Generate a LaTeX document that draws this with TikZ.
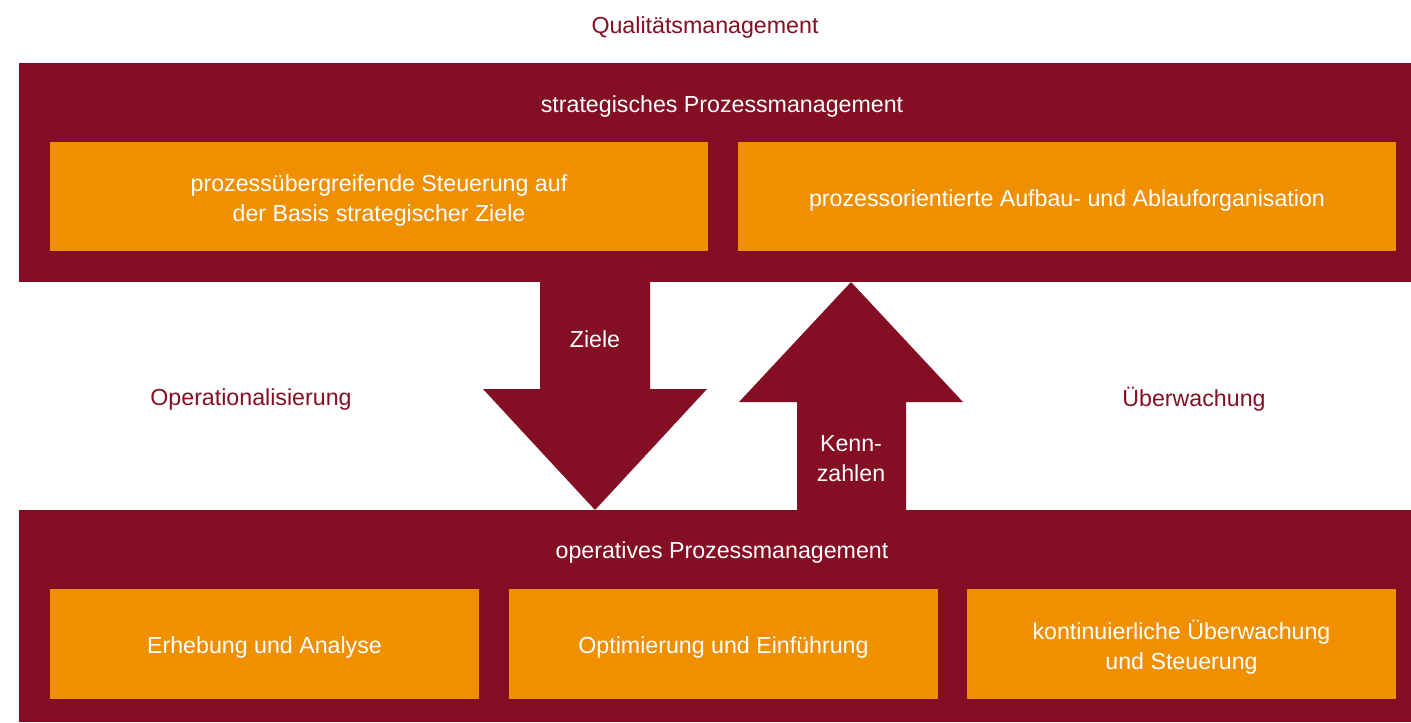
\documentclass[tikz,border=0pt]{standalone}
\usepackage{fontspec}
\setmainfont{Liberation Sans}
\definecolor{dred}{RGB}{132,14,35}
\definecolor{orng}{RGB}{240,144,0}
\begin{document}
\begin{tikzpicture}[x=0.5pt,y=-0.5pt,
  band/.style={fill=dred,draw=none},
  obox/.style={fill=orng,draw=none},
  wtxt/.style={text=white,font=\fontsize{11.6}{15}\selectfont,align=center},
  rtxt/.style={text=dred,font=\fontsize{11.6}{15}\selectfont,align=center}]
\useasboundingbox (0,0) rectangle (1411,722);
% bands
\fill[band] (19,63) rectangle (1411,282);
\fill[band] (19,510) rectangle (1411,722);
% orange boxes
\fill[obox] (50,142) rectangle (708,251);
\fill[obox] (738,142) rectangle (1396,251);
\fill[obox] (50,589) rectangle (479,699);
\fill[obox] (509,589) rectangle (938,699);
\fill[obox] (967,589) rectangle (1396,699);
% arrows
\fill[band] (540,282) -- (650,282) -- (650,389) -- (707,389) -- (595,510) -- (483,389) -- (540,389) -- cycle;
\fill[band] (797,510) -- (906,510) -- (906,402) -- (963,402) -- (851,282) -- (739,402) -- (797,402) -- cycle;
% texts
\node[rtxt] (qm) at (705,27.5) {Qualitätsmanagement};
\node[wtxt] (spm) at (722,106.5) {strategisches Prozessmanagement};
\node[wtxt] (b1) at (379,200) {prozessübergreifende Steuerung auf\\der Basis strategischer Ziele};
\node[wtxt] (b2) at (1067,200) {prozessorientierte Aufbau- und Ablauforganisation};
\node[wtxt] (ziele) at (595,339.5) {Ziele};
\node[wtxt] (kenn) at (851,459) {Kenn-\\zahlen};
\node[rtxt] (op) at (251,399.5) {Operationalisierung};
\node[rtxt] (ue) at (1194,399.5) {Überwachung};
\node[wtxt] (opm) at (722,552.5) {operatives Prozessmanagement};
\node[wtxt] (c1) at (264.5,647) {Erhebung und Analyse};
\node[wtxt] (c2) at (723.5,647) {Optimierung und Einführung};
\node[wtxt] (c3) at (1181.5,647) {kontinuierliche Überwachung\\und Steuerung};
\end{tikzpicture}
\end{document}
